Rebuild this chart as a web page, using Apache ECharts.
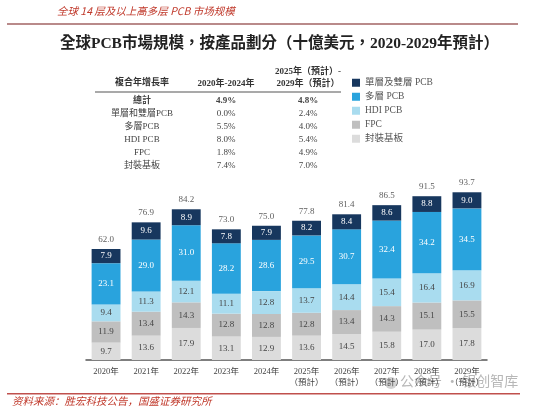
<!DOCTYPE html>
<html><head><meta charset="utf-8">
<script src="https://cdn.jsdelivr.net/npm/echarts@6/dist/echarts.min.js"></script>
<style>html,body{margin:0;padding:0;background:#fff}#c{width:559px;height:409px}</style>
</head><body><div id="c"></div>
<script>
const categories = ['2020年','2021年','2022年','2023年','2024年','2025年\n（預計）','2026年\n（預計）','2027年\n（預計）','2028年\n（預計）','2029年\n（預計）'];
const packaging = [9.7,13.6,17.9,13.1,12.9,13.6,14.5,15.8,17.0,17.8];
const fpc = [11.9,13.4,14.3,12.8,12.8,12.8,13.4,14.3,15.1,15.5];
const hdi = [9.4,11.3,12.1,11.1,12.8,13.7,14.4,15.4,16.4,16.9];
const multi = [23.1,29.0,31.0,28.2,28.6,29.5,30.7,32.4,34.2,34.5];
const single = [7.9,9.6,8.9,7.8,7.9,8.2,8.4,8.6,8.8,9.0];
const totals = [62.0,76.9,84.2,73.0,75.0,77.8,81.4,86.5,91.5,93.7];
const seriesNames = ['單層及雙層 PCB','多層 PCB','HDI PCB','FPC','封裝基板'];
const tableRows = ['總計','單層和雙層PCB','多層PCB','HDI PCB','FPC','封裝基板'];
const cagr2024 = ['4.9%','0.0%','5.5%','8.0%','1.8%','7.4%'];
const cagr2029 = ['4.8%','2.4%','4.0%','5.4%','4.9%','7.0%'];

const FONT = '"Liberation Serif","Noto Sans CJK TC",serif';
const colors = {single:'#17375e', multi:'#29a3dd', hdi:'#a9dcef', fpc:'#bfbfbf', pack:'#dcdcdc'};
const chart = echarts.init(document.getElementById('c'));

function barSeries(name, data, color, labelColor){
  return {name, type:'bar', stack:'t', data, barWidth:'72%',
    itemStyle:{color},
    label:{show:true, position:'inside', color:labelColor, fontSize:9, fontFamily:FONT,
      formatter:p=>p.value.toFixed(1)}};
}
const g = [];
// header
g.push({type:'text', left:57, top:6, style:{text:'全球 14 层及以上高多层 PCB 市场规模', fill:'#c0392b', font:'italic 10.5px "Noto Sans CJK SC"'}});
g.push({type:'rect', shape:{x:7,y:23,width:511,height:2}, style:{fill:'#b98a8a'}});
g.push({type:'text', left:'center', top:36, style:{text:'全球PCB市場規模，按產品劃分（十億美元，2020-2029年預計）', fill:'#222', font:'bold 15.5px "Liberation Serif","Noto Sans CJK TC"'}});
// table
const tf = '9px "Liberation Serif","Noto Sans CJK TC"';
const tfb = 'bold 9px "Liberation Serif","Noto Sans CJK TC"';
g.push({type:'text', x:142, y:83, style:{text:'複合年增長率', fill:'#333', font:tfb, textAlign:'center', textVerticalAlign:'middle'}});
g.push({type:'text', x:226, y:84, style:{text:'2020年-2024年', fill:'#333', font:tfb, textAlign:'center', textVerticalAlign:'middle'}});
g.push({type:'text', x:308, y:72, style:{text:'2025年（預計）-', fill:'#333', font:tfb, textAlign:'center', textVerticalAlign:'middle'}});
g.push({type:'text', x:308, y:84, style:{text:'2029年（預計）', fill:'#333', font:tfb, textAlign:'center', textVerticalAlign:'middle'}});
g.push({type:'rect', shape:{x:95,y:91.5,width:246,height:1}, style:{fill:'#555'}});
tableRows.forEach((r,i)=>{
  const y = 101 + i*12.9;
  const f = i===0 ? tfb : tf;
  g.push({type:'text', x:142, y, style:{text:r, fill:'#444', font:f, textAlign:'center', textVerticalAlign:'middle'}});
  g.push({type:'text', x:226, y, style:{text:cagr2024[i], fill:'#444', font:f, textAlign:'center', textVerticalAlign:'middle'}});
  g.push({type:'text', x:308, y, style:{text:cagr2029[i], fill:'#444', font:f, textAlign:'center', textVerticalAlign:'middle'}});
});
// footer
g.push({type:'rect', shape:{x:7,y:393,width:513,height:1.5}, style:{fill:'#c0504d'}});
g.push({type:'text', left:12, top:396, style:{text:'资料来源：胜宏科技公告，国盛证券研究所', fill:'#c0392b', font:'italic 10.5px "Noto Sans CJK SC"'}});
// watermark
g.push({type:'circle', shape:{cx:391,cy:383,r:6}, style:{fill:'#c8c8c8', opacity:0.8}});
g.push({type:'text', left:400, top:374, style:{text:'公众号 · 银创智库', fill:'#aaaaaa', opacity:0.85, font:'14px "Noto Sans CJK SC"'}});

chart.setOption({
  animation:false,
  textStyle:{fontFamily:FONT},
  grid:{left:86, right:72, top:181, bottom:49},
  legend:{orient:'vertical', left:347, top:73, itemWidth:8, itemHeight:8, itemGap:4.5,
    icon:'rect', data:seriesNames,
    textStyle:{fontSize:9.5, color:'#555', fontFamily:FONT}},
  xAxis:{type:'category', data:categories,
    axisLine:{lineStyle:{color:'#555', width:1.5}}, axisTick:{show:false},
    axisLabel:{interval:0, fontSize:8.5, color:'#444', lineHeight:11, margin:6, fontFamily:FONT}},
  yAxis:{type:'value', min:0, max:100, show:false, splitLine:{show:false}},
  graphic:g,
  series:[
    barSeries('封裝基板', packaging, colors.pack, '#444'),
    barSeries('FPC', fpc, colors.fpc, '#444'),
    barSeries('HDI PCB', hdi, colors.hdi, '#444'),
    barSeries('多層 PCB', multi, colors.multi, '#fff'),
    barSeries('單層及雙層 PCB', single, colors.single, '#fff'),
    {name:'總計', type:'scatter', data:totals, symbol:'circle', symbolSize:2, silent:true, z:10,
      itemStyle:{color:'rgba(255,255,255,0)'},
      label:{show:true, position:'top', distance:4, color:'#333', fontSize:9, fontFamily:FONT,
        formatter:p=>p.value.toFixed(1)}}
  ]
});
</script></body></html>
